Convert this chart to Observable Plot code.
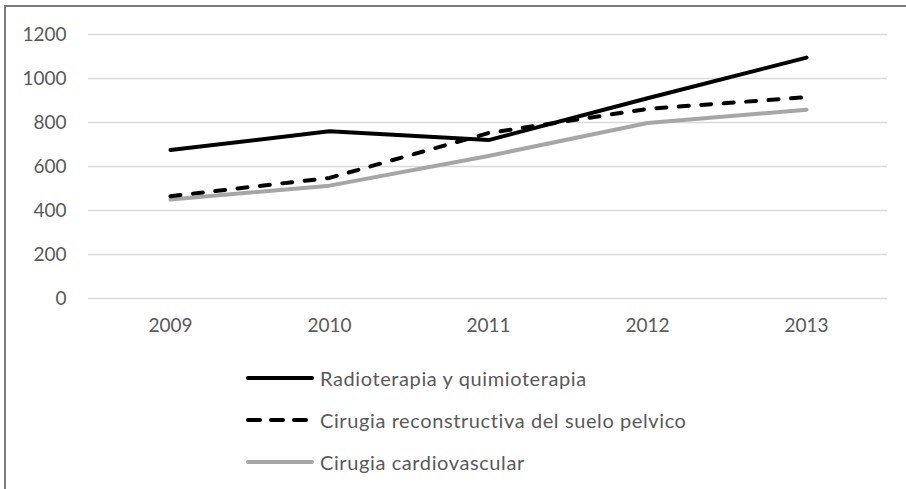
<!DOCTYPE html>
<html>
<head>
<meta charset="utf-8">
<script src="https://cdn.jsdelivr.net/npm/d3@7"></script>
<script src="https://cdn.jsdelivr.net/npm/@observablehq/plot@0.6"></script>
<style>
  html, body { margin: 0; padding: 0; background: #fff; }
  body { width: 906px; height: 489px; overflow: hidden; position: relative; font-family: Lato, "Open Sans", sans-serif; }
  #frame { position: absolute; left: 4px; top: 5px; width: 902px; height: 484px; border-left: 2px solid #7a7a7a; border-top: 2px solid #7a7a7a; }
  #chart { position: absolute; left: 0; top: 0; }
  #legend { position: absolute; left: 238px; top: 0; }
  .item { position: absolute; left: 0; height: 30px; display: flex; align-items: center; white-space: nowrap; color: #595959; font-size: 20px; letter-spacing: 0.6px; }
  .item svg { margin-right: 4px; }
</style>
</head>
<body>
<div id="frame"><div id="chart"></div><div id="legend"></div></div>
<script>
const years = ["2009", "2010", "2011", "2012", "2013"];
const seriesNames = ["Radioterapia y quimioterapia", "Cirugia reconstructiva del suelo pelvico", "Cirugia cardiovascular"];
const radioterapia = [675, 760, 720, 910, 1095];
const cirugiaSuelo = [465, 548, 752, 862, 915];
const cirugiaCardio = [450, 513, 648, 798, 858];
const yTicks = [0, 200, 400, 600, 800, 1000, 1200];

const styles = [
  {stroke: "#000000", dash: null},
  {stroke: "#000000", dash: "10,12.5"},
  {stroke: "#a6a6a6", dash: null}
];
const values = [radioterapia, cirugiaSuelo, cirugiaCardio];
const rows = seriesNames.map((name, i) => years.map((year, j) => ({series: name, year, value: values[i][j]})));

const lineMark = (i) => Plot.line(rows[i], {
  x: "year", y: "value", stroke: styles[i].stroke, strokeWidth: 4,
  strokeDasharray: styles[i].dash || undefined, strokeLinecap: "round", strokeLinejoin: "round"
});

const chart = Plot.plot({
  width: 900,
  height: 340,
  marginLeft: 82,
  marginRight: 19,
  marginTop: 27,
  marginBottom: 49,
  style: {fontFamily: "Lato, 'Open Sans', sans-serif", fontSize: "19px", color: "#595959", background: "transparent"},
  x: {type: "point", domain: years, padding: 0.5},
  y: {domain: [0, 1200]},
  marks: [
    Plot.gridY(yTicks, {stroke: "#d9d9d9", strokeOpacity: 1, strokeWidth: 1.5}),
    Plot.axisY(yTicks, {tickSize: 0, tickPadding: 22, label: null, fill: "#595959", fontSize: 19, tickFormat: d => String(d)}),
    Plot.axisX(years, {tickSize: 0, tickPadding: 20, label: null, fill: "#595959", fontSize: 19}),
    lineMark(2),
    lineMark(0),
    lineMark(1)
  ]
});
document.getElementById("chart").appendChild(chart);

const legend = document.getElementById("legend");
const centers = [371, 413, 455];
seriesNames.forEach((name, i) => {
  const item = document.createElement("div");
  item.className = "item";
  item.style.top = (centers[i] - 15) + "px";
  const ns = "http://www.w3.org/2000/svg";
  const svg = document.createElementNS(ns, "svg");
  svg.setAttribute("width", 72);
  svg.setAttribute("height", 10);
  const ln = document.createElementNS(ns, "line");
  ln.setAttribute("x1", 4); ln.setAttribute("x2", 68);
  ln.setAttribute("y1", 5); ln.setAttribute("y2", 5);
  ln.setAttribute("stroke", styles[i].stroke);
  ln.setAttribute("stroke-width", 4);
  ln.setAttribute("stroke-linecap", "round");
  if (styles[i].dash) ln.setAttribute("stroke-dasharray", "12,11");
  svg.appendChild(ln);
  item.appendChild(svg);
  const span = document.createElement("span");
  span.textContent = name;
  item.appendChild(span);
  legend.appendChild(item);
});
</script>
</body>
</html>
